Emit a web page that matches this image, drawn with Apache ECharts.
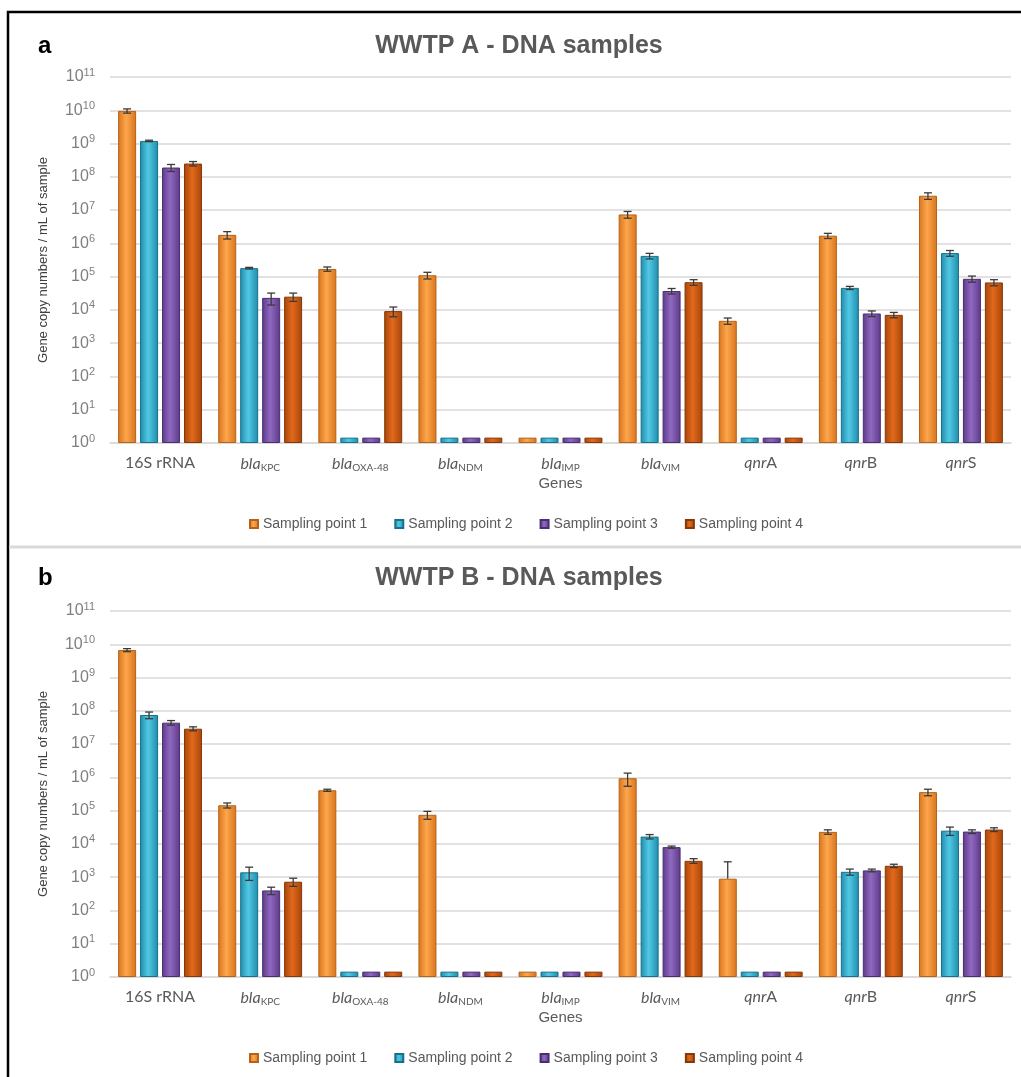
<!DOCTYPE html>
<html>
<head>
<meta charset="utf-8">
<script src="https://cdn.jsdelivr.net/npm/echarts@6/dist/echarts.min.js"></script>
<style>html,body{margin:0;padding:0;background:#fff}#c{width:1021px;height:1077px}</style>
</head>
<body>
<div id="c"></div>
<script>
// ---- data ----
const categories = ['16S rRNA', 'bla|KPC', 'bla|OXA-48', 'bla|NDM', 'bla|IMP', 'bla|VIM', 'qnr|A', 'qnr|B', 'qnr|S'];
const seriesNames = ['Sampling point 1', 'Sampling point 2', 'Sampling point 3', 'Sampling point 4'];
const yTickExponents = [0, 1, 2, 3, 4, 5, 6, 7, 8, 9, 10, 11];

// WWTP A
const A_sp1 = [9.6e9, 1.8e6, 1.7e5, 1.1e5, 1.45, 7.4e6, 4.7e3, 1.7e6, 2.7e7];
const A_sp2 = [1.2e9, 1.8e5, 1.45, 1.45, 1.45, 4.2e5, 1.45, 4.6e4, 5.1e5];
const A_sp3 = [1.9e8, 2.3e4, 1.45, 1.45, 1.45, 3.7e4, 1.45, 7.8e3, 8.6e4];
const A_sp4 = [2.5e8, 2.5e4, 9.2e3, 1.45, 1.45, 6.8e4, 1.45, 7.1e3, 6.7e4];
const A_sp1_err = [1.4e9, 4.5e5, 2.5e4, 2.5e4, 0, 1.7e6, 1.0e3, 3.0e5, 6.0e6];
const A_sp2_err = [6.0e7, 1.0e4, 0, 0, 0, 8.0e4, 0, 5.0e3, 1.0e5];
const A_sp3_err = [4.5e7, 9.0e3, 0, 0, 0, 7.0e3, 0, 1.5e3, 1.8e4];
const A_sp4_err = [3.8e7, 7.0e3, 3.0e3, 0, 0, 1.3e4, 0, 1.3e3, 1.4e4];

// WWTP B
const B_sp1 = [6.7e9, 1.45e5, 4.1e5, 7.5e4, 1.45, 9.4e5, 9.0e2, 2.3e4, 3.6e5];
const B_sp2 = [7.5e7, 1.4e3, 1.45, 1.45, 1.45, 1.66e4, 1.45, 1.45e3, 2.5e4];
const B_sp3 = [4.4e7, 4.0e2, 1.45, 1.45, 1.45, 8.0e3, 1.45, 1.6e3, 2.35e4];
const B_sp4 = [2.9e7, 7.3e2, 1.45, 1.45, 1.45, 3.1e3, 1.45, 2.2e3, 2.7e4];
const B_sp1_err = [7.0e8, 2.5e4, 3.0e4, 2.0e4, 0, 4.0e5, 2.0e3, 3.5e3, 8.0e4];
const B_sp2_err = [1.7e7, 6.0e2, 0, 0, 0, 2.5e3, 0, 3.0e2, 7.0e3];
const B_sp3_err = [7.0e6, 1.0e2, 0, 0, 0, 6.0e2, 0, 1.5e2, 3.0e3];
const B_sp4_err = [4.0e6, 2.0e2, 0, 0, 0, 5.0e2, 0, 2.5e2, 3.5e3];

// ---- styling ----
const palette = [
  {dark: '#D8741C', light: '#FDA64C', border: '#B5621A'},
  {dark: '#1E8CAA', light: '#52C8E4', border: '#18718A'},
  {dark: '#5C3A88', light: '#9069C0', border: '#4A2F70'},
  {dark: '#A6450A', light: '#E2691C', border: '#853808'}
];
const BAR_W = 18;
const offsets = [-33, -11, 11, 33];

function grad(p) {
  return new echarts.graphic.LinearGradient(0, 0, 1, 0, [
    {offset: 0, color: p.dark}, {offset: 0.45, color: p.light}, {offset: 1, color: p.dark}
  ]);
}

function catLabel(c) {
  if (c.indexOf('|') < 0) return '{n|' + c + '}';
  const parts = c.split('|');
  if (parts[0] === 'bla') return '{it|' + parts[0] + '}{sub|' + parts[1] + '}';
  return '{it|' + parts[0] + '}{n|' + parts[1] + '}';
}

function errRender(offset) {
  return function (params, api) {
    const cat = api.value(0), v = api.value(1), sd = api.value(2);
    if (!sd) return null;
    const hi = api.coord([cat, v + sd]);
    const mid = api.coord([cat, v]);
    const lo = (v - sd) > 1 ? api.coord([cat, v - sd]) : null;
    const x = mid[0] + offset;
    const bottomY = lo ? lo[1] : mid[1];
    const st = {stroke: '#3a3a3a', lineWidth: 1.3};
    const ch = [
      {type: 'line', shape: {x1: x, y1: hi[1], x2: x, y2: bottomY}, style: st},
      {type: 'line', shape: {x1: x - 4, y1: hi[1], x2: x + 4, y2: hi[1]}, style: st}
    ];
    if (lo) ch.push({type: 'line', shape: {x1: x - 4, y1: lo[1], x2: x + 4, y2: lo[1]}, style: st});
    return {type: 'group', children: ch};
  };
}

const panels = [
  {top: 77, vals: [A_sp1, A_sp2, A_sp3, A_sp4], errs: [A_sp1_err, A_sp2_err, A_sp3_err, A_sp4_err]},
  {top: 611, vals: [B_sp1, B_sp2, B_sp3, B_sp4], errs: [B_sp1_err, B_sp2_err, B_sp3_err, B_sp4_err]}
];

const FONT = 'Liberation Sans';
const grid = [], xAxis = [], yAxis = [], series = [];
panels.forEach((p, k) => {
  grid.push({left: 110, right: 10, top: p.top, height: 366});
  xAxis.push({
    type: 'category', gridIndex: k, data: categories,
    name: 'Genes', nameLocation: 'middle', nameGap: 33,
    nameTextStyle: {fontFamily: FONT, fontSize: 15, color: '#595959'},
    axisLine: {lineStyle: {color: '#d9d9d9', width: 1.5}},
    axisTick: {show: false},
    axisLabel: {
      margin: 12, interval: 0,
      formatter: v => catLabel(v),
      rich: {
        n: {fontFamily: 'Lato', fontSize: 16, color: '#595959'},
        it: {fontFamily: 'Lato', fontSize: 16, fontStyle: 'italic', color: '#595959'},
        sub: {fontFamily: 'Lato', fontSize: 10, color: '#595959', padding: [8, 0, 0, 0]}
      }
    }
  });
  yAxis.push({
    type: 'log', gridIndex: k, logBase: 10, min: 1, max: 1e11, interval: 1,
    name: 'Gene copy numbers / mL of sample', nameLocation: 'middle', nameGap: 60,
    nameTextStyle: {fontFamily: FONT, fontSize: 13, color: '#404040'},
    axisLine: {show: false}, axisTick: {show: false},
    splitLine: {lineStyle: {color: '#d9d9d9', width: 1.5}},
    axisLabel: {
      margin: 15,
      formatter: v => {
        const e = Math.round(Math.log10(v));
        return yTickExponents.indexOf(e) >= 0 ? '{b|10}{sup|' + e + '}' : '';
      },
      rich: {
        b: {fontFamily: FONT, fontSize: 16, color: '#7f7f7f'},
        sup: {fontFamily: FONT, fontSize: 11, color: '#7f7f7f', padding: [0, 0, 9, 0]}
      }
    }
  });
  seriesNames.forEach((name, i) => {
    series.push({
      type: 'bar', name: name, xAxisIndex: k, yAxisIndex: k,
      data: p.vals[i], barWidth: BAR_W, barGap: '22%',
      itemStyle: {color: grad(palette[i]), borderColor: palette[i].border, borderWidth: 1},
      emphasis: {disabled: true}, animation: false
    });
  });
  seriesNames.forEach((name, i) => {
    series.push({
      type: 'custom', name: 'err' + k + i, xAxisIndex: k, yAxisIndex: k,
      data: p.vals[i].map((v, j) => [j, v, p.errs[i][j]]),
      encode: {x: 0, y: 1},
      renderItem: errRender(offsets[i]), z: 5, animation: false, silent: true
    });
  });
});

const legendBase = {
  data: seriesNames, left: 244, itemWidth: 8, itemHeight: 8, itemGap: 27, icon: 'rect',
  textStyle: {fontFamily: FONT, fontSize: 14, color: '#595959'}, selectedMode: false
};

const chart = echarts.init(document.getElementById('c'));
chart.setOption({
  animation: false,
  grid: grid, xAxis: xAxis, yAxis: yAxis, series: series,
  legend: [Object.assign({top: 512}, legendBase), Object.assign({top: 1046}, legendBase)],
  graphic: [
    {type: 'rect', shape: {x: 8, y: 12, width: 1030, height: 1090}, style: {fill: 'none', stroke: '#000', lineWidth: 2.5}, silent: true},
    {type: 'line', shape: {x1: 9, y1: 547, x2: 1021, y2: 547}, style: {stroke: '#d9d9d9', lineWidth: 3}, silent: true},
    {type: 'text', x: 38, y: 46, style: {text: 'a', fontFamily: FONT, fontWeight: 'bold', fontSize: 24, fill: '#000', verticalAlign: 'middle'}},
    {type: 'text', x: 38, y: 578, style: {text: 'b', fontFamily: FONT, fontWeight: 'bold', fontSize: 24, fill: '#000', verticalAlign: 'middle'}},
    {type: 'text', x: 519, y: 46, style: {text: 'WWTP A - DNA samples', fontFamily: FONT, fontWeight: 'bold', fontSize: 25, fill: '#595959', align: 'center', verticalAlign: 'middle'}},
    {type: 'text', x: 519, y: 578, style: {text: 'WWTP B - DNA samples', fontFamily: FONT, fontWeight: 'bold', fontSize: 25, fill: '#595959', align: 'center', verticalAlign: 'middle'}}
  ]
});
</script>
</body>
</html>
